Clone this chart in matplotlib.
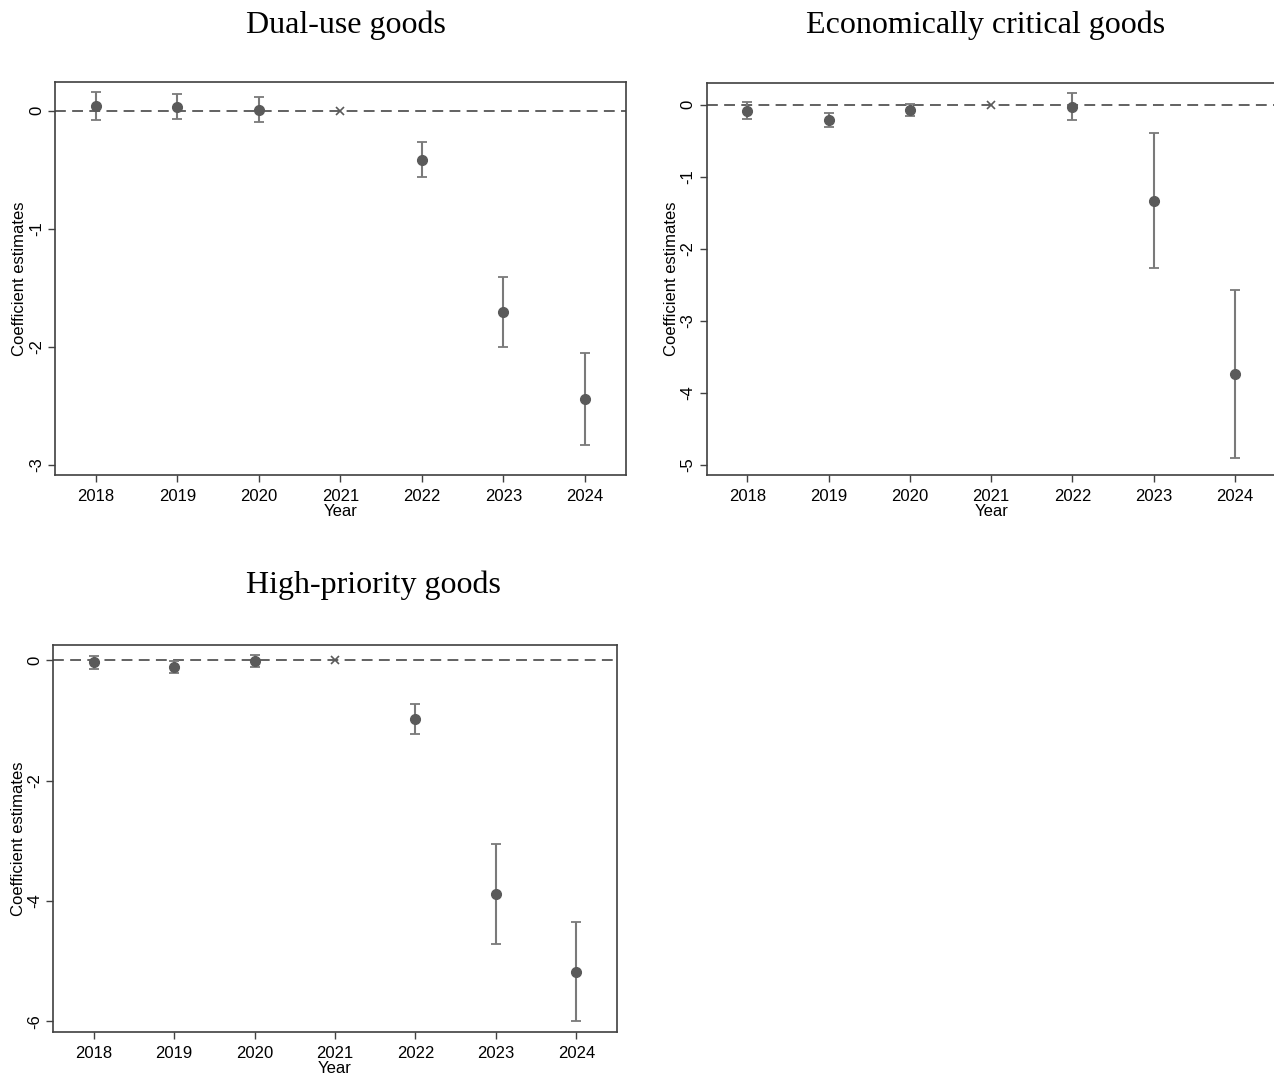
import numpy as np
import matplotlib
matplotlib.use("Agg")
import matplotlib.pyplot as plt

# years of the event study, 2021 is the reference year
years = [2018, 2019, 2020, 2021, 2022, 2023, 2024]

# Dual-use goods
dual_est = [0.04, 0.034, 0.008, 0.0, -0.415, -1.706, -2.443]
dual_lo = [-0.079, -0.073, -0.093, 0.0, -0.562, -2.0, -2.833]
dual_hi = [0.156, 0.14, 0.113, 0.0, -0.268, -1.412, -2.05]

# Economically critical goods
econ_est = [-0.088, -0.21, -0.07, 0.0, -0.028, -1.333, -3.745]
econ_lo = [-0.2, -0.31, -0.153, 0.0, -0.21, -2.27, -4.90]
econ_hi = [0.042, -0.11, 0.014, 0.0, 0.158, -0.389, -2.578]

# High-priority goods
high_est = [-0.033, -0.106, -0.006, 0.0, -0.98, -3.884, -5.17]
high_lo = [-0.139, -0.205, -0.106, 0.0, -1.23, -4.71, -5.995]
high_hi = [0.071, -0.02, 0.094, 0.0, -0.726, -3.048, -4.344]

titles = ["Dual-use goods", "Economically critical goods", "High-priority goods"]
yticks_list = [[0, -1, -2, -3], [0, -1, -2, -3, -4, -5], [0, -2, -4, -6]]
ylims = [(-3.087, 0.24), (-5.143, 0.297), (-6.17, 0.254)]

W, H = 1274, 1077
fig = plt.figure(figsize=(W / 100, H / 100), dpi=100)

# axes boxes in pixels: left, right, top, bottom
boxes = [(55, 625.7, 82.3, 475), (706.7, 1275.7, 83.3, 475), (53.3, 616.7, 645, 1031.7)]
title_pos = [(346, 25), (986, 25), (373.5, 585)]

data = [(dual_est, dual_lo, dual_hi), (econ_est, econ_lo, econ_hi), (high_est, high_lo, high_hi)]

for i in range(3):
    l, r, t, b = boxes[i]
    ax = fig.add_axes([l / W, 1 - b / H, (r - l) / W, (b - t) / H])
    est, lo, hi = [np.array(v) for v in data[i]]
    yrs = np.array(years)
    ref = yrs == 2021

    ax.axhline(0, color="#555555", lw=1.3, ls=(0, (6, 3.5)), zorder=1)
    ax.errorbar(yrs[~ref], est[~ref], yerr=[est[~ref] - lo[~ref], hi[~ref] - est[~ref]],
                fmt="none", ecolor="#7a7a7a", elinewidth=1.5, capsize=3.5, capthick=1.3, zorder=2)
    ax.plot(yrs[~ref], est[~ref], "o", color="#5a5a5a", ms=7, zorder=3)
    ax.plot(yrs[ref], est[ref], "x", color="#5a5a5a", ms=5.5, mew=1.2, zorder=3)

    ax.set_xlim(2017.5, 2024.5)
    ax.set_ylim(*ylims[i])
    ax.set_xticks(years)
    ax.set_xticklabels([str(y) for y in years], fontsize=12, family="Liberation Sans")
    ax.set_yticks(yticks_list[i])
    ax.set_yticklabels([str(v) for v in yticks_list[i]], fontsize=12, family="Liberation Sans",
                       rotation=90, va="center")
    ax.tick_params(direction="out", length=5, width=1, color="#404040")
    ax.tick_params(axis="x", pad=5)
    ax.tick_params(axis="y", pad=3)
    for s in ax.spines.values():
        s.set_color("#404040")
        s.set_linewidth(1.2)
    ax.set_xlabel("Year", fontsize=12, family="Liberation Sans", labelpad=0)
    ax.set_ylabel("Coefficient estimates", fontsize=12, family="Liberation Sans", labelpad=1)

    tx, ty = title_pos[i]
    fig.text(tx / W, 1 - ty / H, titles[i], ha="center", va="center",
             fontsize=23, family="Liberation Serif")

fig.savefig("out.png", dpi=100)
